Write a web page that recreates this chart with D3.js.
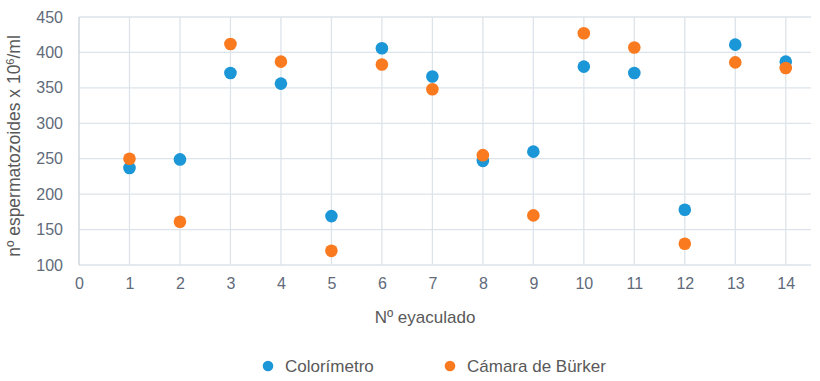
<!DOCTYPE html>
<html><head><meta charset="utf-8">
<script src="https://cdn.jsdelivr.net/npm/d3@7"></script>
<style>body{margin:0;background:#fff}svg{display:block;font-family:"Liberation Sans",Arial,sans-serif}</style>
</head><body>
<svg id="c" width="820" height="381"></svg>
<script>
const eyaculado = [1,2,3,4,5,6,7,8,9,10,11,12,13,14];
const colorimetro = [237,249,371,356,169,406,366,247,260,380,371,178,411,387];
const camaraBurker = [250,161,412,387,120,383,348,255,170,427,407,130,386,378];
const xTicks = [0,1,2,3,4,5,6,7,8,9,10,11,12,13,14];
const yTicks = [100,150,200,250,300,350,400,450];
const seriesNames = ["Colorímetro","Cámara de Bürker"];
const colors = ["#1b96d6","#fa7a20"];

const svg = d3.select("#c");
const x = d3.scaleLinear().domain([0,14.5]).range([79,811]);
const y = d3.scaleLinear().domain([100,450]).range([265,17]);
const grid = "#dde3ea", tickCol = "#5f6b7a";

// grid
svg.append("g").selectAll("line").data(yTicks).join("line")
  .attr("x1",x(0)).attr("x2",x(14.5)).attr("y1",d=>y(d)).attr("y2",d=>y(d))
  .attr("stroke",grid).attr("stroke-width",1.3);
svg.append("g").selectAll("line").data(xTicks).join("line")
  .attr("x1",d=>x(d)).attr("x2",d=>x(d)).attr("y1",y(100)).attr("y2",y(450))
  .attr("stroke",d=>d===0?"#c9d1db":grid).attr("stroke-width",1.3);

// axes labels
const yAxis = d3.axisLeft(y).tickValues(yTicks).tickSize(0).tickPadding(16);
const gy = svg.append("g").attr("transform",`translate(${x(0)},0)`).call(yAxis);
gy.select(".domain").remove();
gy.selectAll("text").attr("fill",tickCol).attr("font-size",16).attr("font-family","Liberation Sans, Arial, sans-serif");

const xAxis = d3.axisBottom(x).tickValues(xTicks).tickFormat(d3.format("d")).tickSize(0).tickPadding(13);
const gx = svg.append("g").attr("transform",`translate(0,${y(100)})`).call(xAxis);
gx.select(".domain").remove();
gx.selectAll("text").attr("fill",tickCol).attr("font-size",16).attr("font-family","Liberation Sans, Arial, sans-serif");

// titles
svg.append("text").attr("x",425).attr("y",323).attr("text-anchor","middle")
  .attr("fill","#595959").attr("font-size",17).text("Nº eyaculado");
const yt = svg.append("text").attr("transform","translate(20,146) rotate(-90)")
  .attr("text-anchor","middle").attr("fill","#595959").attr("font-size",17.5);
yt.append("tspan").text("nº espermatozoides x 10");
yt.append("tspan").attr("baseline-shift","super").attr("font-size",11).text("6");
yt.append("tspan").text("/ml");

// points
const series = [colorimetro, camaraBurker];
series.forEach((vals,i)=>{
  svg.append("g").selectAll("circle").data(vals).join("circle")
    .attr("cx",(d,j)=>x(eyaculado[j])).attr("cy",d=>y(d)).attr("r",6.3)
    .attr("fill",colors[i]);
});

// legend
const legX = [268,450];
seriesNames.forEach((n,i)=>{
  svg.append("circle").attr("cx",legX[i]).attr("cy",366).attr("r",5.3).attr("fill",colors[i]);
  svg.append("text").attr("x",legX[i]+17).attr("y",372).attr("fill","#595959")
    .attr("font-size",17).text(n);
});
</script>
</body></html>
